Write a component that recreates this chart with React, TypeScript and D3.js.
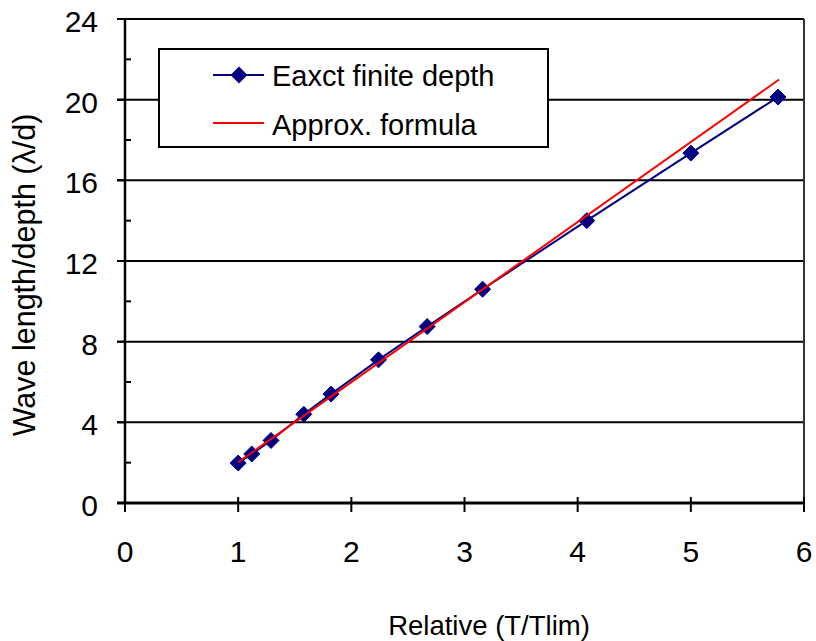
import React from "react";
import * as d3 from "d3";

// Exact finite-depth solution: relative period vs wave length / depth
const exactX = [1.0, 1.12, 1.29, 1.58, 1.82, 2.24, 2.67, 3.16, 4.08, 5.0, 5.77];
const exactY = [1.98, 2.43, 3.1, 4.4, 5.4, 7.1, 8.75, 10.6, 14.0, 17.35, 20.13];

// Approximate formula (straight line between its end points)
const approxX = [1.0, 5.78];
const approxY = [2.02, 21.0];

const xTicks = [0, 1, 2, 3, 4, 5, 6];
const yTicks = [0, 4, 8, 12, 16, 20, 24];
const yMinorTicks = [2, 6, 10, 14, 18, 22];

const legendLabels = ["Eaxct finite depth", "Approx. formula"];

const W = 816;
const H = 641;
const left = 125;
const right = 804;
const top = 19;
const bottom = 503;
const FONT = "'Liberation Sans', Arial, Helvetica, sans-serif";

export default function App() {
  const x = d3.scaleLinear().domain([0, 6]).range([left, right]);
  const y = d3.scaleLinear().domain([0, 24]).range([bottom, top]);

  const exact = exactX.map((v, i) => [v, exactY[i]] as [number, number]);
  const approx = approxX.map((v, i) => [v, approxY[i]] as [number, number]);

  const line = d3
    .line<[number, number]>()
    .x((d) => x(d[0]))
    .y((d) => y(d[1]));

  const diamond = (cx: number, cy: number, r: number) =>
    `M${cx},${cy - r}L${cx + r},${cy}L${cx},${cy + r}L${cx - r},${cy}Z`;

  return (
    <svg
      width={W}
      height={H}
      style={{ position: "absolute", left: 0, top: 0, background: "#fff" }}
      fontFamily={FONT}
    >
      {/* horizontal gridlines */}
      {yTicks
        .filter((t) => t > 0)
        .map((t) => (
          <line key={"g" + t} x1={left - 8} x2={right} y1={y(t)} y2={y(t)} stroke="#000" strokeWidth={2} />
        ))}

      {/* right plot border */}
      <line x1={right} x2={right} y1={top} y2={bottom} stroke="#333" strokeWidth={2} />

      {/* y axis */}
      <line x1={left} x2={left} y1={top} y2={bottom} stroke="#000" strokeWidth={2.5} />
      {yTicks.map((t) => (
        <line key={"yt" + t} x1={left - 8} x2={left} y1={y(t)} y2={y(t)} stroke="#000" strokeWidth={2} />
      ))}
      {yMinorTicks.map((t) => (
        <line key={"ym" + t} x1={left} x2={left + 6} y1={y(t)} y2={y(t)} stroke="#000" strokeWidth={2} />
      ))}
      {yTicks.map((t) => (
        <text key={"yl" + t} x={98} y={y(t) + 13} textAnchor="end" fontSize={30} fill="#000">
          {t}
        </text>
      ))}

      {/* x axis */}
      <line x1={left - 8} x2={right} y1={bottom} y2={bottom} stroke="#000" strokeWidth={3} />
      {xTicks.map((t) => (
        <line key={"xt" + t} x1={x(t)} x2={x(t)} y1={bottom - 6} y2={bottom + 9} stroke="#000" strokeWidth={2} />
      ))}
      {xTicks.map((t) => (
        <text key={"xl" + t} x={x(t)} y={562} textAnchor="middle" fontSize={30} fill="#000">
          {t}
        </text>
      ))}

      {/* axis titles */}
      <text x={489} y={635} textAnchor="middle" fontSize={27.5} fill="#000">
        Relative (T/Tlim)
      </text>
      <text
        transform={`translate(35, 275) rotate(-90)`}
        textAnchor="middle"
        fontSize={30.5}
        fill="#000"
      >
        Wave length/depth (λ/d)
      </text>

      {/* exact series */}
      <path d={line(exact) || ""} fill="none" stroke="#000080" strokeWidth={2} />
      {exact.map((d, i) => (
        <path key={"m" + i} d={diamond(x(d[0]), y(d[1]), 8)} fill="#000080" stroke="#000080" strokeWidth={1} strokeLinejoin="round" />
      ))}

      {/* approximate formula */}
      <path d={line(approx) || ""} fill="none" stroke="#ff0000" strokeWidth={2} />

      {/* legend */}
      <rect x={159} y={49} width={389} height={98} fill="#fff" stroke="#000" strokeWidth={2} />
      <line x1={213} x2={264} y1={75} y2={75} stroke="#000080" strokeWidth={2} />
      <path d={diamond(239, 75, 8.5)} fill="#000080" />
      <text x={272} y={86} fontSize={29} fill="#000">
        {legendLabels[0]}
      </text>
      <line x1={213} x2={264} y1={123} y2={123} stroke="#ff0000" strokeWidth={2} />
      <text x={272} y={135} fontSize={29} fill="#000">
        {legendLabels[1]}
      </text>
    </svg>
  );
}
